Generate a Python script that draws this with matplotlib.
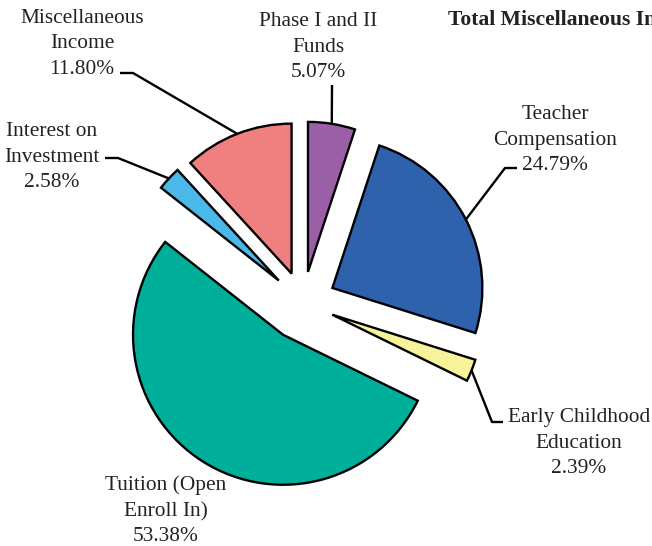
import numpy as np
import matplotlib
matplotlib.use("Agg")
import matplotlib.pyplot as plt

labels = ["Phase I and II\nFunds", "Teacher\nCompensation", "Early Childhood\nEducation",
          "Tuition (Open\nEnroll In)", "Interest on\nInvestment", "Miscellaneous\nIncome"]
shares = [5.07, 24.79, 2.39, 53.38, 2.58, 11.80]
colors = ["#9B5FA8", "#2E62AD", "#F7F39A", "#00AF9A", "#4AB8E8", "#F08080"]
explode = [0.21, 0.22, 0.21, 0.25, 0.22, 0.21]
title = "Total Miscellaneous Income"

# label layout: text centre, leader elbow, leader end (None = no leader)
text_pos = [(318, 499), (555, 406), (579, 103), (166, 35), (52, 389), (82, 502)]
elbow = [None, (505, 378), (492, 124), None, (118, 388), (133, 473)]
lead_end = [(332, 461), (517, 378), (503, 124), None, (105, 388), (120, 473)]

W, H = 652, 546
R = 150
fig = plt.figure(figsize=(W / 100, H / 100), dpi=100)
ax = fig.add_axes([0, 0, 1, 1])

wedges, _ = ax.pie(shares, explode=[e * R for e in explode], colors=colors, startangle=90,
                   counterclock=False, center=(303, 243), radius=R,
                   wedgeprops=dict(edgecolor="black", linewidth=1.7))

font = dict(family="Liberation Serif", fontsize=15.4)
for w, lab, val, tp, el, le in zip(wedges, labels, shares, text_pos, elbow, lead_end):
    ax.text(tp[0], tp[1], "%s\n%.2f%%" % (lab, val), ha="center", va="center",
            multialignment="center", linespacing=1.45, color="#222222", **font)
    if le is None:
        continue
    ang = np.deg2rad((w.theta1 + w.theta2) / 2)
    ax0 = w.center[0] + w.r * np.cos(ang)
    ay0 = w.center[1] + w.r * np.sin(ang)
    pts = [(ax0, ay0)] + ([el] if el else []) + [le]
    xs, ys = zip(*pts)
    ax.plot(xs, ys, color="black", lw=1.7, solid_capstyle="butt")

# the title runs off the right edge, as in the original
ax.text(448, 526, title, ha="left", va="center", family="Liberation Serif",
        fontsize=15.6, fontweight="bold", color="#222222")

ax.set_xlim(0, W)
ax.set_ylim(0, H)
ax.set_aspect("equal")
ax.axis("off")
fig.savefig("out.png", dpi=100)
